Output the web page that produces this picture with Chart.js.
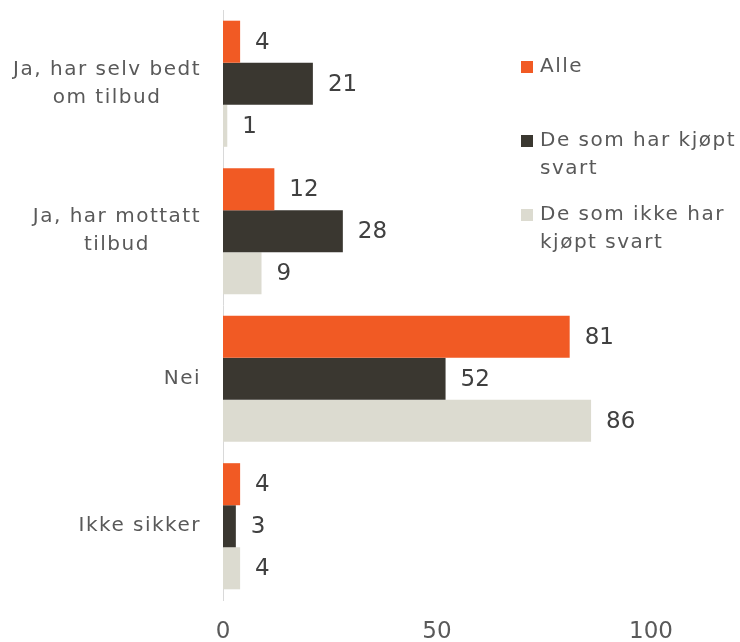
<!DOCTYPE html>
<html><head><meta charset="utf-8">
<script src="https://cdn.jsdelivr.net/npm/chart.js@4"></script>
<style>html,body{margin:0;padding:0;background:#fff}</style>
</head><body>
<canvas id="c" width="740" height="642"></canvas>
<script>
const categories = [["Ja, har selv bedt","om tilbud"],["Ja, har mottatt","tilbud"],["Nei"],["Ikke sikker"]];
const seriesNames = ["Alle","De som har kjøpt svart","De som ikke har kjøpt svart"];
const legendLines = [["Alle"],["De som har kjøpt","svart"],["De som ikke har","kjøpt svart"]];
const alle = [4,12,81,4];
const kjopt = [21,28,52,3];
const ikkeKjopt = [1,9,86,4];
const xTicks = [0,50,100];
const colors = ["#F15A24","#3A3730","#DCDBD0"];

const FONT = '20px "DejaVu Sans"';
const NUMFONT = '23px "DejaVu Sans"';
const LS = '1.5px';

const textPlugin = {
  id:'textPlugin',
  afterDraw(chart){
    const ctx = chart.ctx;
    const ys = chart.scales.y;
    ctx.save();
    ctx.font = FONT;
    ctx.letterSpacing = LS;
    ctx.textBaseline = 'middle';
    // category labels
    ctx.fillStyle = '#595959';
    ctx.textAlign = 'center';
    categories.forEach((lines,i)=>{
      const cy = ys.getPixelForValue(i);
      const maxW = Math.max(...lines.map(l=>ctx.measureText(l).width));
      const cx = 201 - maxW/2;
      const lh = 28;
      const y0 = cy - (lines.length-1)*lh/2;
      lines.forEach((l,k)=>ctx.fillText(l, cx, y0 + k*lh));
    });
    // legend
    const legY = [67,141,215];
    chart.data.datasets.forEach((ds,di)=>{
      ctx.fillStyle = ds.backgroundColor;
      ctx.fillRect(521, legY[di]-6, 12, 12);
      ctx.fillStyle = '#595959';
      ctx.textAlign = 'left';
      legendLines[di].forEach((l,k)=>ctx.fillText(l, 540, legY[di] + k*28));
    });
    // data labels
    ctx.font = NUMFONT;
    ctx.letterSpacing = '0px';
    ctx.textAlign = 'left';
    ctx.fillStyle = '#404040';
    chart.data.datasets.forEach((ds,di)=>{
      const meta = chart.getDatasetMeta(di);
      meta.data.forEach((el,j)=>{
        ctx.fillText(String(ds.data[j]), el.x + 15, el.y + 1);
      });
    });
    ctx.restore();
  }
};

new Chart(document.getElementById('c'), {
  type:'bar',
  data:{
    labels: categories,
    datasets:[
      {label:seriesNames[0], data:alle, backgroundColor:colors[0]},
      {label:seriesNames[1], data:kjopt, backgroundColor:colors[1]},
      {label:seriesNames[2], data:ikkeKjopt, backgroundColor:colors[2]}
    ]
  },
  options:{
    responsive:false, animation:false, indexAxis:'y',
    layout:{padding:{top:10,right:89,left:0,bottom:0}},
    datasets:{bar:{categoryPercentage:0.855, barPercentage:1}},
    plugins:{legend:{display:false}, tooltip:{enabled:false}},
    scales:{
      x:{min:0,max:100,
        afterBuildTicks:s=>{s.ticks = xTicks.map(v=>({value:v}));},
        grid:{display:false, drawTicks:false}, border:{display:false},
        ticks:{color:'#595959', font:{family:'DejaVu Sans', size:23}, padding:18, maxRotation:0},
        afterFit:s=>{s.height=42;}
      },
      y:{
        grid:{display:false, drawTicks:false},
        border:{display:true, color:'#D9D9D9', width:1},
        ticks:{display:false},
        afterFit:s=>{s.width=223;}
      }
    }
  },
  plugins:[textPlugin]
});
</script>
</body></html>
